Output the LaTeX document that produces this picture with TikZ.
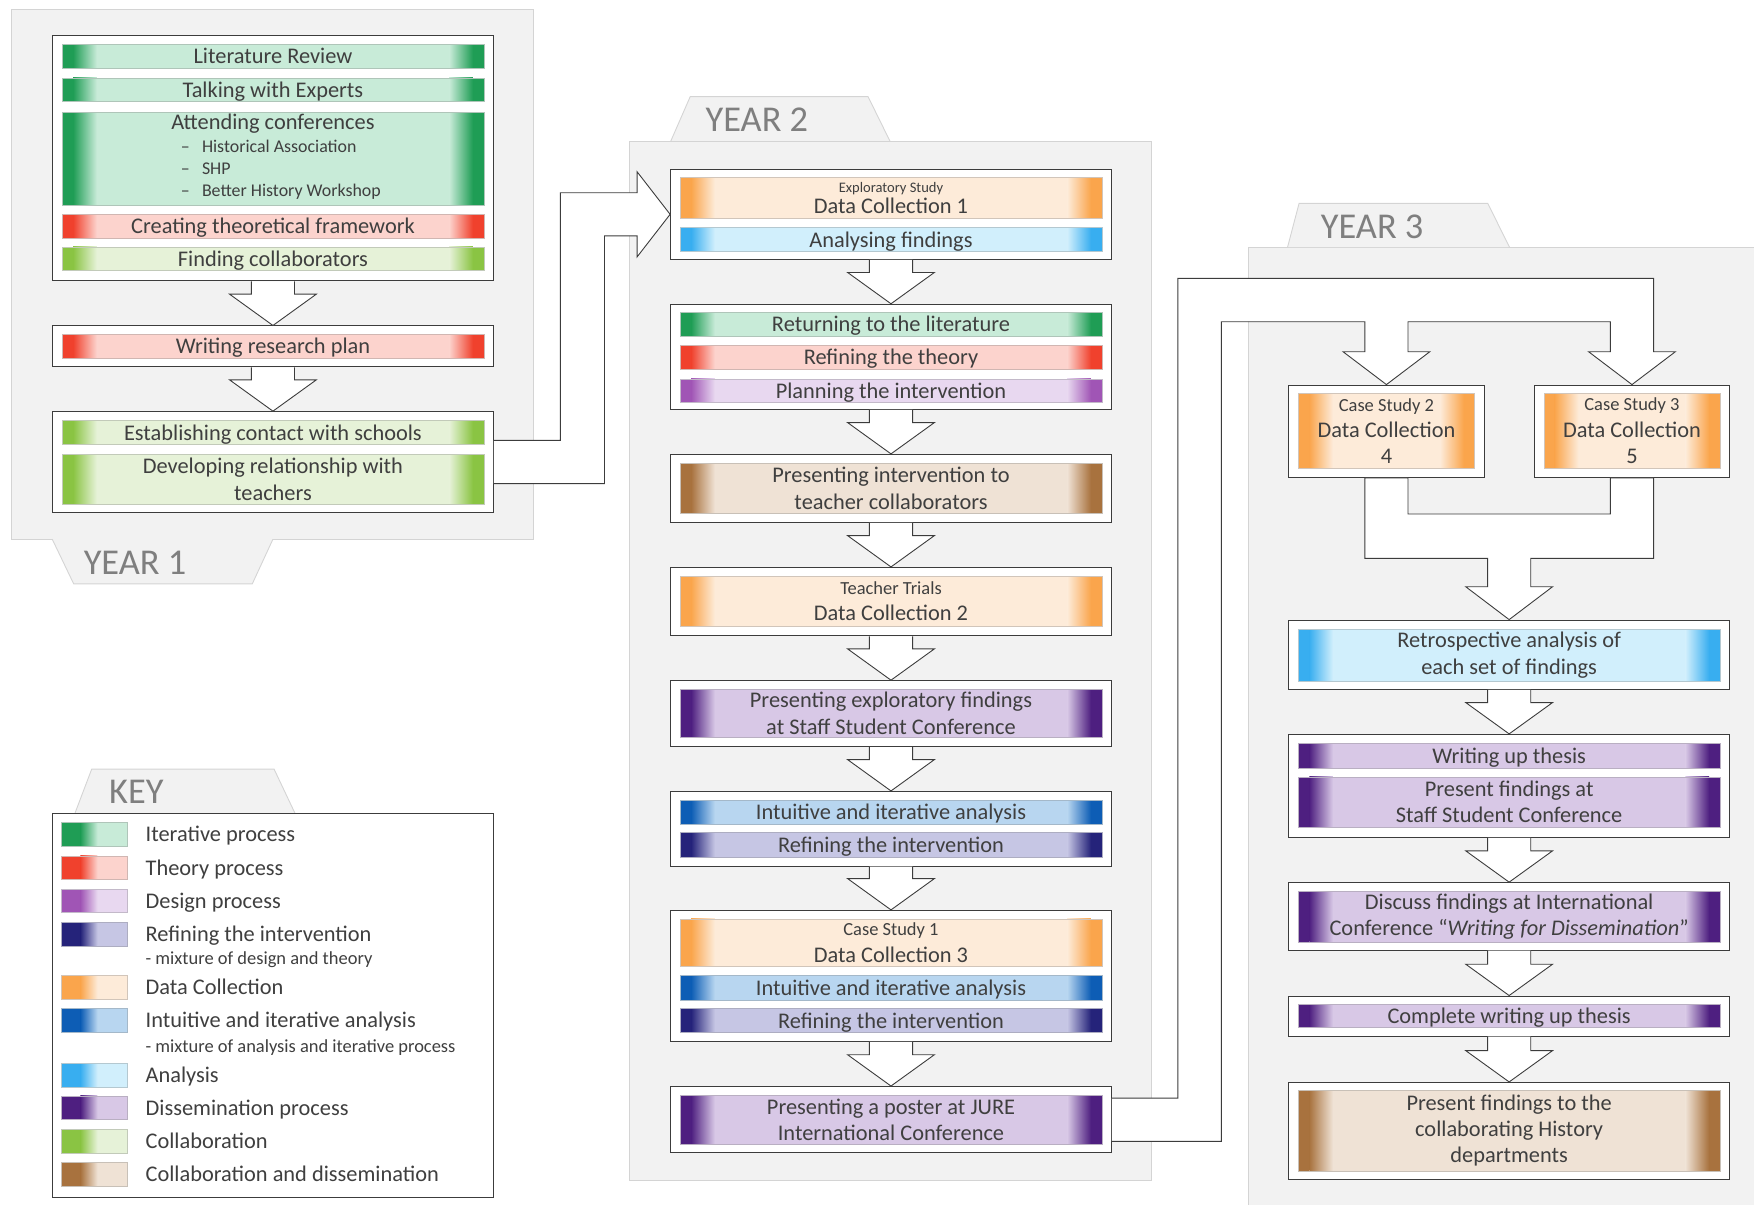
\documentclass[tikz,border=0pt]{standalone}
\usepackage{fontspec}
\setmainfont{Carlito}
\usepackage{tikz}
\usetikzlibrary{calc}

\definecolor{panelgray}{HTML}{F2F2F2}
\definecolor{panelline}{HTML}{D4D4D4}
\definecolor{boxline}{HTML}{3C3C3C}
\definecolor{txtgray}{HTML}{3F3F3F}
\definecolor{labelgray}{HTML}{7F7F7F}
\definecolor{iterD}{HTML}{1F9D55}\definecolor{iterL}{HTML}{C8EBD8}
\definecolor{theoD}{HTML}{F0412D}\definecolor{theoL}{HTML}{FCD3CD}
\definecolor{desiD}{HTML}{A055B5}\definecolor{desiL}{HTML}{E8D8F0}
\definecolor{refiD}{HTML}{25237A}\definecolor{refiL}{HTML}{C6C6E4}
\definecolor{dataD}{HTML}{FAA54C}\definecolor{dataL}{HTML}{FDEBD9}
\definecolor{intuD}{HTML}{0D5DB5}\definecolor{intuL}{HTML}{B8D6F0}
\definecolor{analD}{HTML}{38AEF0}\definecolor{analL}{HTML}{D1EFFC}
\definecolor{dissD}{HTML}{4E1F80}\definecolor{dissL}{HTML}{D8C8E6}
\definecolor{collD}{HTML}{8AC443}\definecolor{collL}{HTML}{E6F2D8}
\definecolor{cdisD}{HTML}{A8723E}\definecolor{cdisL}{HTML}{EFE2D5}

% wide white arrow from one box down to the next
\newcommand{\blockdown}[2]{%
  \draw[blockarrow] let \p1=(#1.south), \p2=(#2.north) in
    (\x2-19.3pt,\y1) -- (\x2-19.3pt,\y2+28pt) -- (\x2-38.8pt,\y2+28pt) -- (\x2,\y2)
    -- (\x2+38.8pt,\y2+28pt) -- (\x2+19.3pt,\y2+28pt) -- (\x2+19.3pt,\y1);}

\begin{document}
\begin{tikzpicture}[
  x=1pt, y=-1pt,
  panel/.style={fill=panelgray, draw=panelline, line width=0.8pt},
  tab/.style={fill=panelgray, draw=panelline, line width=0.8pt},
  stagebox/.style={draw=boxline, fill=white, line width=0.9pt,
                   minimum width=394, inner sep=0pt},
  bar/.style 2 args={draw=#2!65!gray, line width=0.4pt, fill=#2,
                     minimum width=377, align=center, inner sep=0pt,
    path picture={
      \fill[#1] (path picture bounding box.south west) rectangle ([xshift=10pt]path picture bounding box.north west);
      \shade[left color=#1, right color=#2] ([xshift=9.8pt]path picture bounding box.south west) rectangle ([xshift=31pt]path picture bounding box.north west);
      \fill[#1] ([xshift=-10pt]path picture bounding box.south east) rectangle (path picture bounding box.north east);
      \shade[left color=#2, right color=#1] ([xshift=-31pt]path picture bounding box.south east) rectangle ([xshift=-9.8pt]path picture bounding box.north east);
    }},
  oneline/.style={text height=15.5pt, text depth=2pt},
  swatch/.style 2 args={draw=#2!65!gray, line width=0.4pt, fill=#2,
                        minimum width=58.7, minimum height=21,
    path picture={
      \fill[#1] (path picture bounding box.south west) rectangle ([xshift=17pt]path picture bounding box.north west);
      \shade[left color=#1, right color=#2] ([xshift=16.8pt]path picture bounding box.south west) rectangle ([xshift=32pt]path picture bounding box.north west);
    }},
  blockarrow/.style={draw=boxline, fill=white, line width=0.8pt, line join=miter},
  yearlabel/.style={text=labelgray, font=\fontsize{32.5}{36}\selectfont},
  keytext/.style={anchor=west, text height=15.5pt, text depth=2pt},
  keynote/.style={anchor=west, font=\fontsize{16.5}{19}\selectfont, text height=15pt, text depth=1.5pt},
  every node/.style={font=\fontsize{20}{23.5}\selectfont, text=txtgray, inner sep=0pt}
]
  \useasboundingbox (0,0) rectangle (1568,1077);

  % panels and tabs
  \draw[panel] (10.5,8) rectangle (477,482);
  \draw[tab] (46.7,482) -- (65.9,522) -- (225.5,522) -- (244,482);
  \node[yearlabel] (yearone) at (120.7,503.5) {YEAR 1};

  \draw[panel] (563,126) rectangle (1029.5,1055.2);
  \draw[tab] (599.7,126) -- (617,86.4) -- (776,86.4) -- (795.5,126);
  \node[yearlabel] (yeartwo) at (676.6,107.3) {YEAR 2};

  \fill[panelgray] (1116,221) rectangle (1568,1077);
  \draw[panelline, line width=0.8pt] (1116,1077) -- (1116,221) -- (1568,221);
  \draw[tab] (1151,221) -- (1161.3,181.8) -- (1330,181.8) -- (1349.4,221);
  \node[yearlabel] (yearthree) at (1226.6,202.7) {YEAR 3};

  % year 1
  \node[stagebox, minimum height=219.3] (yoneA) at (244,141.5) {};
  \node[bar={iterD}{iterL}, oneline, minimum height=21.4] (litreview) at (244,50.3) {Literature Review};
  \node[bar={iterD}{iterL}, oneline, minimum height=21.4] (experts) at (244,80.2) {Talking with Experts};
  \node[bar={iterD}{iterL}, minimum height=83.5] (conferences) at (244,142) {Attending conferences\\[-3.5pt]
    {\fontsize{16}{20}\selectfont\hspace*{14pt}\begin{tabular}[t]{@{}l@{\hspace{11pt}}l@{}}
      – & Historical Association\\ – & SHP\\ – & Better History Workshop\end{tabular}}};
  \node[bar={theoD}{theoL}, oneline, minimum height=21.4] (framework) at (244,202.3) {Creating theoretical framework};
  \node[bar={collD}{collL}, oneline, minimum height=21.4] (collaborators) at (244,231.3) {Finding collaborators};

  \node[stagebox, minimum height=36.6] (yoneB) at (244,309.7) {};
  \node[bar={theoD}{theoL}, oneline, minimum height=21.4] (researchplan) at (244,309.6) {Writing research plan};

  \node[stagebox, minimum height=90] (yoneC) at (244,413) {};
  \node[bar={collD}{collL}, oneline, minimum height=21.2] (contact) at (244,386.6) {Establishing contact with schools};
  \node[bar={collD}{collL}, minimum height=45] (relationship) at (244,428.4) {Developing relationship with\\teachers};

  \blockdown{yoneA}{yoneB}
  \blockdown{yoneB}{yoneC}

  % year 2
  \node[stagebox, minimum height=80.4] (ytwoA) at (796.5,191.6) {};
  \node[bar={dataD}{dataL}, minimum height=36.4] (dcone) at (796.5,177) {{\fontsize{13}{15}\selectfont Exploratory Study}\\[-4.5pt]Data Collection 1};
  \node[bar={analD}{analL}, oneline, minimum height=21.8] (analysing) at (796.5,214.1) {Analysing findings};

  \node[stagebox, minimum height=94] (ytwoB) at (796.5,319) {};
  \node[bar={iterD}{iterL}, oneline, minimum height=21.2] (returning) at (796.5,289.8) {Returning to the literature};
  \node[bar={theoD}{theoL}, oneline, minimum height=21.2] (reftheory) at (796.5,319.5) {Refining the theory};
  \node[bar={desiD}{desiL}, oneline, minimum height=21.2] (planning) at (796.5,349.3) {Planning the intervention};

  \node[stagebox, minimum height=60.8] (ytwoC) at (796.5,436.6) {};
  \node[bar={cdisD}{cdisL}, minimum height=44.7] (presenting) at (796.5,436.6) {Presenting intervention to\\teacher collaborators};

  \node[stagebox, minimum height=61.1] (ytwoD) at (796.5,537.8) {};
  \node[bar={dataD}{dataL}, minimum height=45.2] (dctwo) at (796.5,537.6) {{\fontsize{16.5}{19}\selectfont Teacher Trials}\\Data Collection 2};

  \node[stagebox, minimum height=59] (ytwoE) at (796.5,638) {};
  \node[bar={dissD}{dissL}, minimum height=43] (exploratory) at (796.5,637.7) {Presenting exploratory findings\\at Staff Student Conference};

  \node[stagebox, minimum height=66.8] (ytwoF) at (796.5,740.9) {};
  \node[bar={intuD}{intuL}, oneline, minimum height=21.4] (intuitiveA) at (796.5,726) {Intuitive and iterative analysis};
  \node[bar={refiD}{refiL}, oneline, minimum height=22] (refineA) at (796.5,755.2) {Refining the intervention};

  \node[stagebox, minimum height=117.1] (ytwoG) at (796.5,872.4) {};
  \node[bar={dataD}{dataL}, minimum height=42.6] (dcthree) at (796.5,842.8) {{\fontsize{16.5}{19}\selectfont Case Study 1}\\Data Collection 3};
  \node[bar={intuD}{intuL}, oneline, minimum height=22] (intuitiveB) at (796.5,882.8) {Intuitive and iterative analysis};
  \node[bar={refiD}{refiL}, oneline, minimum height=21.4] (refineB) at (796.5,912.4) {Refining the intervention};

  \node[stagebox, minimum height=59.4] (ytwoH) at (796.5,1001) {};
  \node[bar={dissD}{dissL}, minimum height=44] (poster) at (796.5,1001) {Presenting a poster at JURE\\International Conference};

  \blockdown{ytwoA}{ytwoB}
  \blockdown{ytwoB}{ytwoC}
  \blockdown{ytwoC}{ytwoD}
  \blockdown{ytwoD}{ytwoE}
  \blockdown{ytwoE}{ytwoF}
  \blockdown{ytwoF}{ytwoG}
  \blockdown{ytwoG}{ytwoH}

  % year 3
  \node[stagebox, minimum width=174.7, minimum height=82.5] (cstwo) at (1239.4,385.5) {};
  \node[bar={dataD}{dataL}, minimum width=157.7, minimum height=67.1] (dcfour) at (1239.4,385.2) {{\fontsize{16.5}{19}\selectfont Case Study 2}\\Data Collection\\4};
  \node[stagebox, minimum width=174.7, minimum height=82.5] (csthree) at (1458.9,385.5) {};
  \node[bar={dataD}{dataL}, minimum width=157.7, minimum height=67.1] (dcfive) at (1458.9,385.2) {{\fontsize{16.5}{19}\selectfont Case Study 3}\\Data Collection\\5};

  \node[stagebox, minimum height=61.9] (retro) at (1349.1,585.3) {};
  \node[bar={analD}{analL}, minimum height=46.5] (retrobar) at (1349.1,585.6) {Retrospective analysis of\\each set of findings};

  \node[stagebox, minimum height=92] (ythreeW) at (1349.1,702.5) {};
  \node[bar={dissD}{dissL}, oneline, minimum height=22.4] (writing) at (1349.1,675.7) {Writing up thesis};
  \node[bar={dissD}{dissL}, minimum height=45.3] (presentssc) at (1349.1,717) {Present findings at\\Staff Student Conference};

  \node[stagebox, minimum height=60.3] (discuss) at (1349.1,819.2) {};
  \node[bar={dissD}{dissL}, minimum height=45.3] (discussbar) at (1349.1,819.2) {Discuss findings at International\\Conference “\textit{Writing for Dissemination}”};

  \node[stagebox, minimum height=35.8] (complete) at (1349.1,908.3) {};
  \node[bar={dissD}{dissL}, oneline, minimum height=20.6] (completebar) at (1349.1,908.1) {Complete writing up thesis};

  \node[stagebox, minimum height=86.7] (present) at (1349.1,1011) {};
  \node[bar={cdisD}{cdisL}, minimum height=71.6] (presentbar) at (1349.1,1010.8) {Present findings to the\\collaborating History\\departments};

  \blockdown{retro}{ythreeW}
  \blockdown{ythreeW}{discuss}
  \blockdown{discuss}{complete}
  \blockdown{complete}{present}

  % links between the years
  \draw[blockarrow] ([yshift=19.3pt]yoneC.east) -- (500.9,393.7) -- (500.9,172.3) -- (569.5,172.3)
    -- (569.5,153.5) -- (ytwoA.west) -- (569.5,229.7) -- (569.5,210.9) -- (540.4,210.9)
    -- (540.4,432.3) -- ([yshift=-19.3pt]yoneC.east);
  \draw[blockarrow] ([yshift=19.3pt]ytwoH.east) -- (1053,981.7) -- (1053,248.8) -- (1478.2,248.8)
    -- (1478.2,314.4) -- (1497.7,314.4) -- (csthree.north) -- (1420.1,314.4) -- (1439.6,314.4)
    -- (1439.6,287.6) -- (1258.7,287.6) -- (1258.7,314.4) -- (1278.2,314.4) -- (cstwo.north)
    -- (1200.6,314.4) -- (1220.1,314.4) -- (1220.1,287.6) -- (1091.8,287.6) -- (1091.8,1020.3)
    -- ([yshift=-19.3pt]ytwoH.east);
  \draw[blockarrow] ([xshift=-19.3pt]cstwo.south) -- (1220.1,499.1) -- (1329.8,499.1) -- (1329.8,524.5)
    -- (1310.3,524.5) -- (retro.north) -- (1387.9,524.5) -- (1368.4,524.5) -- (1368.4,499.1)
    -- (1478.2,499.1) -- ([xshift=19.3pt]csthree.south) -- ([xshift=-19.3pt]csthree.south)
    -- (1439.6,459.5) -- (1258.7,459.5) -- ([xshift=19.3pt]cstwo.south) -- cycle;

  % key
  \draw[tab] (67,727) -- (82,687.5) -- (245,687.5) -- (263.7,727);
  \node[yearlabel] (keylabel) at (121.9,708.3) {KEY};
  \node[draw=boxline, fill=white, line width=0.9pt, minimum width=394.2, minimum height=343.4] (keybox) at (243.9,898.7) {};

  \node[swatch={iterD}{iterL}] (keyiter) at (84.5,745.7) {};
  \node[keytext] (keyitertext) at (130,745.7) {Iterative process};
  \node[swatch={theoD}{theoL}] (keytheo) at (84.5,775.5) {};
  \node[keytext] (keytheotext) at (130,775.5) {Theory process};
  \node[swatch={desiD}{desiL}] (keydesi) at (84.5,805.3) {};
  \node[keytext] (keydesitext) at (130,805.3) {Design process};
  \node[swatch={refiD}{refiL}] (keyrefi) at (84.5,835) {};
  \node[keytext] (keyrefitext) at (130,835) {Refining the intervention};
  \node[keynote] (keyrefinote) at (130,855.2) {- mixture of design and theory};
  \node[swatch={dataD}{dataL}] (keydata) at (84.5,882.7) {};
  \node[keytext] (keydatatext) at (130,882.7) {Data Collection};
  \node[swatch={intuD}{intuL}] (keyintu) at (84.5,911.8) {};
  \node[keytext] (keyintutext) at (130,911.8) {Intuitive and iterative analysis};
  \node[keynote] (keyintunote) at (130,934.2) {- mixture of analysis and iterative process};
  \node[swatch={analD}{analL}] (keyanal) at (84.5,961) {};
  \node[keytext] (keyanaltext) at (130,961) {Analysis};
  \node[swatch={dissD}{dissL}] (keydiss) at (84.5,990.2) {};
  \node[keytext] (keydisstext) at (130,990.2) {Dissemination process};
  \node[swatch={collD}{collL}] (keycoll) at (84.5,1020) {};
  \node[keytext] (keycolltext) at (130,1020) {Collaboration};
  \node[swatch={cdisD}{cdisL}] (keycdis) at (84.5,1049.6) {};
  \node[keytext] (keycdistext) at (130,1049.6) {Collaboration and dissemination};
\end{tikzpicture}
\end{document}
